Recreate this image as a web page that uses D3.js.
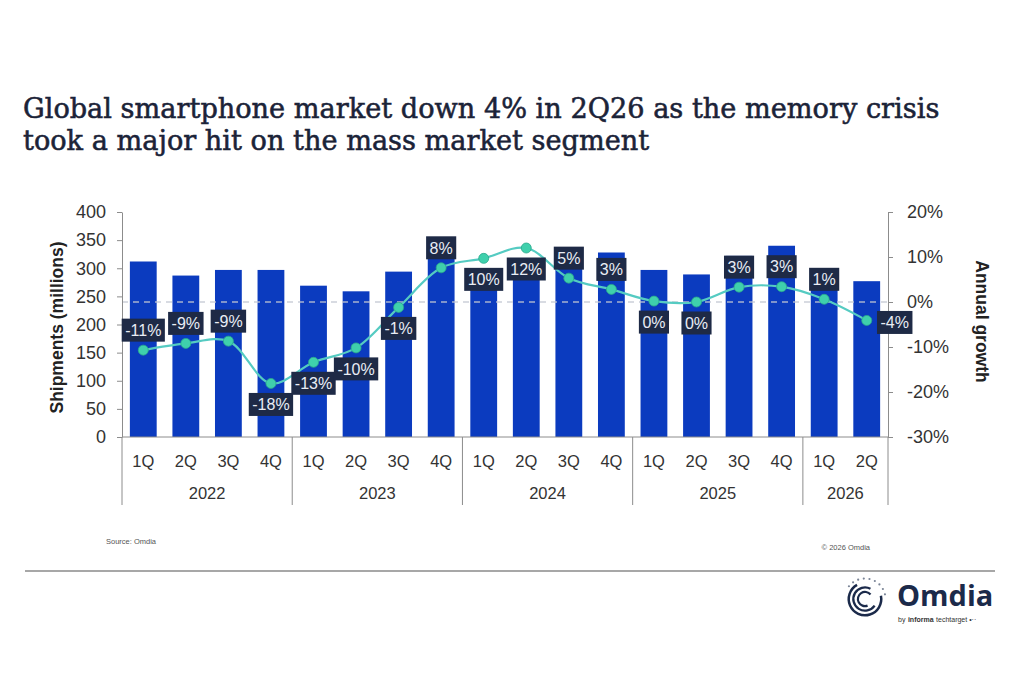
<!DOCTYPE html>
<html><head><meta charset="utf-8">
<script src="https://cdn.jsdelivr.net/npm/d3@7"></script>
<style>
html,body{margin:0;padding:0;background:#fff;}
svg{display:block;}
</style></head>
<body>
<svg id="chart" width="1024" height="683"></svg>
<script>
// ---- data ----
const quarters = ["1Q","2Q","3Q","4Q","1Q","2Q","3Q","4Q","1Q","2Q","3Q","4Q","1Q","2Q","3Q","4Q","1Q","2Q"];
const years    = ["2022","2022","2022","2022","2023","2023","2023","2023","2024","2024","2024","2024","2025","2025","2025","2025","2026","2026"];
const shipments = [312, 287, 297, 297, 269, 259, 294, 322, 296, 289, 316, 328, 297, 289, 322, 340, 299, 277];
const growth    = [-10.7, -9.2, -8.7, -18.1, -13.4, -10.2, -1.2, 7.6, 9.7, 12.0, 5.3, 2.8, 0.2, 0.0, 3.3, 3.4, 0.6, -4.1];
const leftTicks  = [0, 50, 100, 150, 200, 250, 300, 350, 400];
const rightTicks = [-30, -20, -10, 0, 10, 20];
const labelPlacement = ["above","above","above","below","below","below","below","above","below","below","above","above","below","below","above","above","above","right"];
const titleLines = ["Global smartphone market down 4% in 2Q26 as the memory crisis",
                    "took a major hit on the mass market segment"];
const leftTitle = "Shipments (millions)";
const rightTitle = "Annual growth";
const sourceText = "Source: Omdia";
const copyrightText = "\u00A9 2026 Omdia";

// ---- layout ----
const svg = d3.select("#chart");
const X0 = 122, X1 = 888, YT = 212, YB = 437;
const font = "'Liberation Sans', Arial, sans-serif";
const axisColor = "#8c8c8c";
const textColor = "#333";
const barColor = "#0b3bbf";
const lineColor = "#55cbc2";
const dotColor = "#3fd0ac";
const boxColor = "#1e2a46";

const idx = d3.range(shipments.length);
const x = d3.scaleBand().domain(idx).range([X0, X1]).paddingInner(0.37).paddingOuter(0.185);
const step = x.step();
const yL = d3.scaleLinear().domain([0, 400]).range([YB, YT]);
const yR = d3.scaleLinear().domain([-30, 20]).range([YB, YT]);

// title
const title = svg.append("g");
const tfont = "'DejaVu Serif', 'Liberation Serif', serif";
const tcol = "#1b2338";
const t1 = title.append("text").attr("x", 23).attr("y", 118).text(titleLines[0])
  .style("font-family", tfont).style("font-size", "25px").attr("fill", tcol)
  .attr("stroke", tcol).attr("stroke-width", 0.55);
const w = t1.node().getComputedTextLength();
const fs = 25 * 917 / w;
t1.style("font-size", fs + "px");
title.append("text").attr("x", 23).attr("y", 150).text(titleLines[1])
  .style("font-family", tfont).style("font-size", fs + "px").attr("fill", tcol)
  .attr("stroke", tcol).attr("stroke-width", 0.55);

// bars
svg.append("g").selectAll("rect").data(idx).join("rect")
  .attr("x", i => x(i)).attr("width", x.bandwidth())
  .attr("y", i => yL(shipments[i])).attr("height", i => yL(0) - yL(shipments[i]))
  .attr("fill", barColor);

// zero growth dashed line
svg.append("line").attr("x1", X0).attr("x2", X1).attr("y1", yR(0)).attr("y2", yR(0))
  .attr("stroke", "#c4c8d4").attr("stroke-width", 1.5).attr("stroke-dasharray", "6,5").attr("opacity", 0.85);

// left axis
const gl = svg.append("g").attr("transform", `translate(${X0},0)`)
  .call(d3.axisLeft(yL).tickValues(leftTicks).tickSize(5).tickSizeOuter(0).tickPadding(11));
gl.select(".domain").attr("stroke", axisColor);
gl.selectAll(".tick line").attr("stroke", axisColor);
gl.selectAll(".tick text").style("font-family", font).style("font-size", "18px").attr("fill", textColor);

// right axis
const gr = svg.append("g").attr("transform", `translate(${X1},0)`)
  .call(d3.axisRight(yR).tickValues(rightTicks).tickSize(5).tickSizeOuter(0).tickPadding(14).tickFormat(d => d + "%"));
gr.select(".domain").attr("stroke", axisColor);
gr.selectAll(".tick line").attr("stroke", axisColor);
gr.selectAll(".tick text").style("font-family", font).style("font-size", "18px").attr("fill", textColor);

// axis titles
svg.append("text").attr("transform", `translate(63,${(YT+YB)/2 + 3}) rotate(-90)`)
  .attr("text-anchor", "middle").text(leftTitle)
  .style("font-family", font).style("font-size", "17.5px").style("font-weight", "bold").attr("fill", "#222");
svg.append("text").attr("transform", `translate(976,${(YT+YB)/2 - 3}) rotate(90)`)
  .attr("text-anchor", "middle").text(rightTitle)
  .style("font-family", font).style("font-size", "17.5px").style("font-weight", "bold").attr("fill", "#222");

// bottom category axis
const gb = svg.append("g");
gb.append("line").attr("x1", X0).attr("x2", X1).attr("y1", YB).attr("y2", YB).attr("stroke", axisColor);
gb.selectAll("text.q").data(idx).join("text").attr("class", "q")
  .attr("x", i => x(i) + x.bandwidth()/2).attr("y", 467).attr("text-anchor", "middle")
  .text(i => quarters[i]).style("font-family", font).style("font-size", "16.5px").attr("fill", textColor);
const groups = d3.groups(idx, i => years[i]);
const bounds = [X0];
groups.forEach(([yr, arr]) => bounds.push(x(arr[arr.length-1]) + x.bandwidth() + x.paddingInner()*step/2));
gb.selectAll("line.sep").data(bounds).join("line").attr("class", "sep")
  .attr("x1", d => d).attr("x2", d => d).attr("y1", YB).attr("y2", 505).attr("stroke", axisColor);
gb.selectAll("text.y").data(groups).join("text").attr("class", "y")
  .attr("x", ([yr, arr]) => (x(arr[0]) + x(arr[arr.length-1]) + x.bandwidth())/2)
  .attr("y", 499).attr("text-anchor", "middle").text(([yr]) => yr)
  .style("font-family", font).style("font-size", "16.5px").attr("fill", textColor);

// growth line
const pts = idx.map(i => [x(i) + x.bandwidth()/2, yR(growth[i])]);
svg.append("path").attr("d", d3.line().curve(d3.curveCatmullRom.alpha(0.5))(pts))
  .attr("fill", "none").attr("stroke", lineColor).attr("stroke-width", 2.2);
svg.append("g").selectAll("circle").data(idx).join("circle")
  .attr("cx", i => pts[i][0]).attr("cy", i => pts[i][1]).attr("r", 5)
  .attr("fill", dotColor).attr("stroke", "#2aa88c").attr("stroke-width", 0.8);

// labels
const lg = svg.append("g");
idx.forEach(i => {
  const v = Math.round(growth[i]);
  const txt = (v === 0 ? 0 : v) + "%";
  let cx = pts[i][0], cy = pts[i][1];
  const p = labelPlacement[i];
  if (p === "above") cy -= 20;
  else if (p === "below") cy += 21;
  else { cx += 28; cy += 2; }
  const g = lg.append("g");
  const t = g.append("text").attr("x", cx).attr("y", cy).attr("dy", "0.36em").attr("text-anchor", "middle")
    .text(txt).style("font-family", font).style("font-size", "16px").attr("fill", "#e9edf5");
  const tw = t.node().getComputedTextLength();
  g.insert("rect", "text").attr("x", cx - tw/2 - 3.5).attr("y", cy - 11.5).attr("width", tw + 7).attr("height", 23)
    .attr("fill", boxColor);
});

// footer
svg.append("text").attr("x", 106).attr("y", 544).text(sourceText)
  .style("font-family", font).style("font-size", "7.5px").attr("fill", "#555");
svg.append("text").attr("x", 870).attr("y", 550).attr("text-anchor", "end").text(copyrightText)
  .style("font-family", font).style("font-size", "7.5px").attr("fill", "#555");
svg.append("line").attr("x1", 25).attr("x2", 995).attr("y1", 571).attr("y2", 571)
  .attr("stroke", "#8a8a8a").attr("stroke-width", 1.5);

// logo
const logo = svg.append("g").attr("transform", "translate(865,599)");
const navy = "#1b2a4a";
const arc = d3.arc();
[[15, 17.5, -0.2, 4.2], [10.5, 12.8, 0.6, 5.2], [6, 8.2, 1.2, 5.6]].forEach(([ri, ro, a0, a1]) => {
  logo.append("path").attr("d", arc({innerRadius: ri, outerRadius: ro, startAngle: a0 + Math.PI/2, endAngle: a1 + Math.PI/2}))
    .attr("fill", navy);
});
d3.range(9).forEach(k => {
  const a = -Math.PI/2 - 0.9 + k * 0.28;
  logo.append("circle").attr("cx", 20.5*Math.cos(a)).attr("cy", 20.5*Math.sin(a))
    .attr("r", 1.1).attr("fill", "#7a8496");
});
svg.append("text").attr("x", 897).attr("y", 606).text("Omdia")
  .style("font-family", "'Open Sans', 'Liberation Sans', sans-serif").style("font-size", "29px").style("font-weight", "bold").attr("fill", navy);
// "by informa techtarget" as separate pieces placed side by side
const byParts = [["by", "normal"], ["informa", "bold"], ["techtarget \u2022\u00B7\u00B7", "normal"]];
let bx = 898;
byParts.forEach(([s, wgt]) => {
  const t = svg.append("text").attr("x", bx).attr("y", 622).text(s)
    .style("font-family", font).style("font-size", "7px").style("font-weight", wgt).attr("fill", "#333");
  bx += t.node().getComputedTextLength() + 2.5;
});
</script>
</body></html>
